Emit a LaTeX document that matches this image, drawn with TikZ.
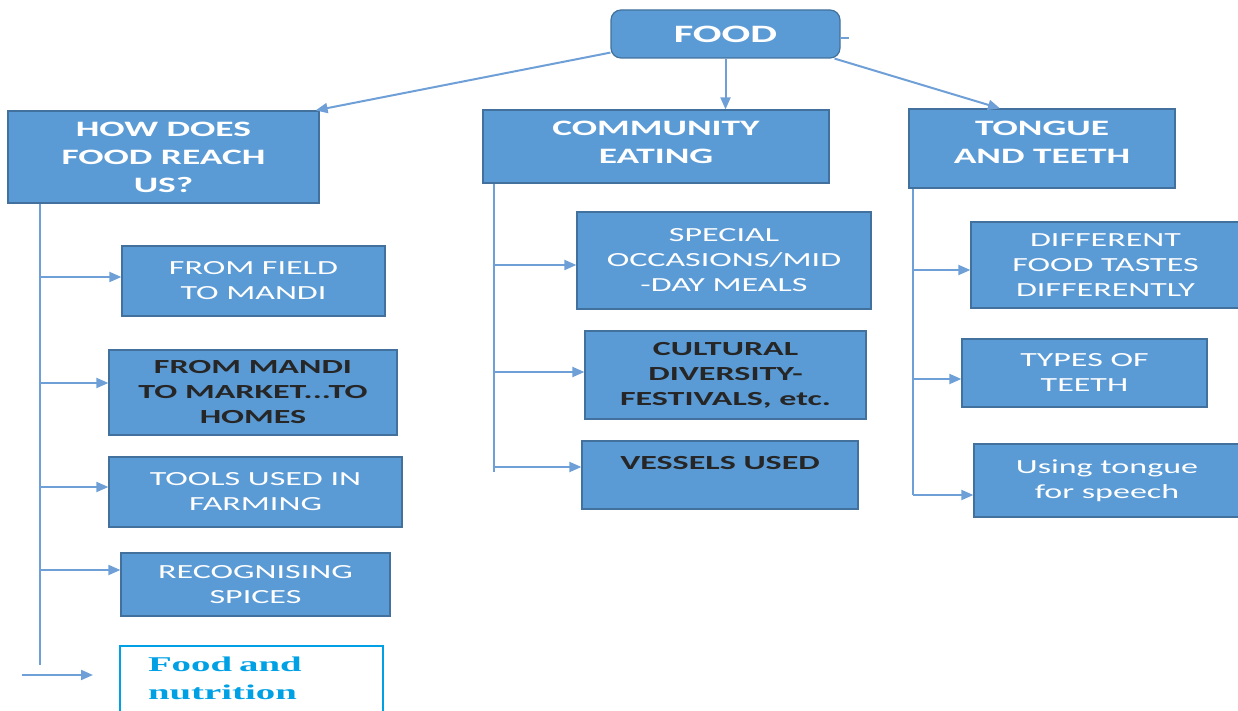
\documentclass[tikz,border=0pt]{standalone}
\usepackage{fontspec}
\setmainfont{Carlito}[FakeStretch=1.7]
\newfontfamily\nutrfont{Liberation Serif}[FakeStretch=1.85]
\usetikzlibrary{arrows.meta}
\definecolor{boxblue}{RGB}{91,155,213}
\definecolor{boxedge}{RGB}{65,113,156}
\definecolor{linkblue}{RGB}{110,160,215}
\definecolor{skyblue}{RGB}{0,160,228}

\begin{document}
\begin{tikzpicture}[x=0.5pt,y=-0.5pt,
  box/.style={draw=boxedge, fill=boxblue, line width=0.6pt, align=center, inner sep=0pt},
  head/.style={box, text=white, font=\bfseries\fontsize{11}{14}\selectfont},
  item/.style={box, text=white, font=\fontsize{10}{12.5}\selectfont},
  darkitem/.style={item, text=black!85, font=\bfseries\fontsize{10}{12.5}\selectfont},
  link/.style={draw=linkblue, line width=1pt},
  arr/.style={link, -{Triangle[length=6pt,width=5pt]}}]
\useasboundingbox (0,0) rectangle (1238,711);

% top
\node[box, rounded corners=5pt, minimum width=114.5pt, minimum height=24pt, text=white,
  font=\bfseries\fontsize{12.5}{15}\selectfont] (food) at (725.5,34) {FOOD};
\node[head, minimum width=155.5pt, minimum height=46pt] (reach) at (163.5,157) {HOW DOES\\FOOD REACH\\US?};
\node[head, minimum width=173pt, minimum height=36.5pt] (comm) at (656,146.5) {COMMUNITY\\EATING\\[-10pt]\mbox{}};
\node[head, minimum width=133pt, minimum height=39.5pt] (tongue) at (1042,148.5) {TONGUE\\AND TEETH\\[-8pt]\mbox{}};

% left column
\node[item, minimum width=131.5pt, minimum height=35pt] (field) at (253.5,281) {FROM FIELD\\TO MANDI};
\node[darkitem, minimum width=144pt, minimum height=42.5pt] (market) at (253,392.5) {FROM MANDI\\TO MARKET...TO\\HOMES};
\node[item, minimum width=146.5pt, minimum height=35pt] (tools) at (255.5,492) {TOOLS USED IN\\FARMING};
\node[item, minimum width=134.5pt, minimum height=31.5pt] (spices) at (255.5,584.5) {RECOGNISING\\SPICES};
\node[draw=skyblue, line width=0.8pt, anchor=north, text width=103.5pt, inner xsep=14pt, inner ysep=5.5pt,
  align=left, text=skyblue, font=\nutrfont\bfseries\fontsize{10.5}{14}\selectfont] (nutrition) at (251.5,645) {Food and\\nutrition\\ \mbox{}};

% middle column
\node[item, minimum width=147pt, minimum height=48.5pt] (special) at (724,260.5) {SPECIAL\\OCCASIONS/MID\\-DAY MEALS};
\node[darkitem, minimum width=140.5pt, minimum height=44pt] (cultural) at (725.5,375) {CULTURAL\\DIVERSITY-\\FESTIVALS, etc.};
\node[darkitem, minimum width=138pt, minimum height=34pt] (vessels) at (720,475) {VESSELS USED\\\mbox{}};

% right column
\node[item, minimum width=134.5pt, minimum height=43pt] (tastes) at (1105.5,265) {DIFFERENT\\FOOD TASTES\\DIFFERENTLY};
\node[item, minimum width=122.5pt, minimum height=34pt] (types) at (1084.5,373) {TYPES OF\\TEETH};
\node[item, minimum width=133pt, minimum height=36.5pt] (speech) at (1107,480.5) {Using tongue\\for speech};

% links from the top box
\draw[arr] ([yshift=3pt]food.south west) -- ([xshift=-2pt]reach.north east);
\draw[arr] (food.south) -- (food.south |- comm.north);
\draw[arr] ([xshift=-3pt]food.south east) -- ([xshift=-21pt]tongue.north);
\draw[link] ([yshift=-2pt]food.east) -- ++(4pt,0);

% trunks
\coordinate (lefttrunk) at (40,665);
\coordinate (midtrunk) at (494,472);
\coordinate (righttrunk) at (913,495);
\draw[link] (reach.south -| lefttrunk) -- (lefttrunk);
\draw[link] (comm.south -| midtrunk) -- (midtrunk);
\draw[link] (tongue.south -| righttrunk) -- (righttrunk);

\foreach \target/\ypos in {field/277, market/383, tools/487, spices/570}
  \draw[arr] (lefttrunk |- 0,\ypos) -- (\target.west |- 0,\ypos);
\foreach \target/\ypos in {special/265, cultural/372, vessels/467}
  \draw[arr] (midtrunk |- 0,\ypos) -- (\target.west |- 0,\ypos);
\foreach \target/\ypos in {tastes/270, types/379, speech/495}
  \draw[arr] (righttrunk |- 0,\ypos) -- (\target.west |- 0,\ypos);

% loose arrow
\coordinate (nfrom) at (22,675);
\coordinate (nto) at (93,675);
\draw[arr] (nfrom) -- (nto);
\end{tikzpicture}
\end{document}
